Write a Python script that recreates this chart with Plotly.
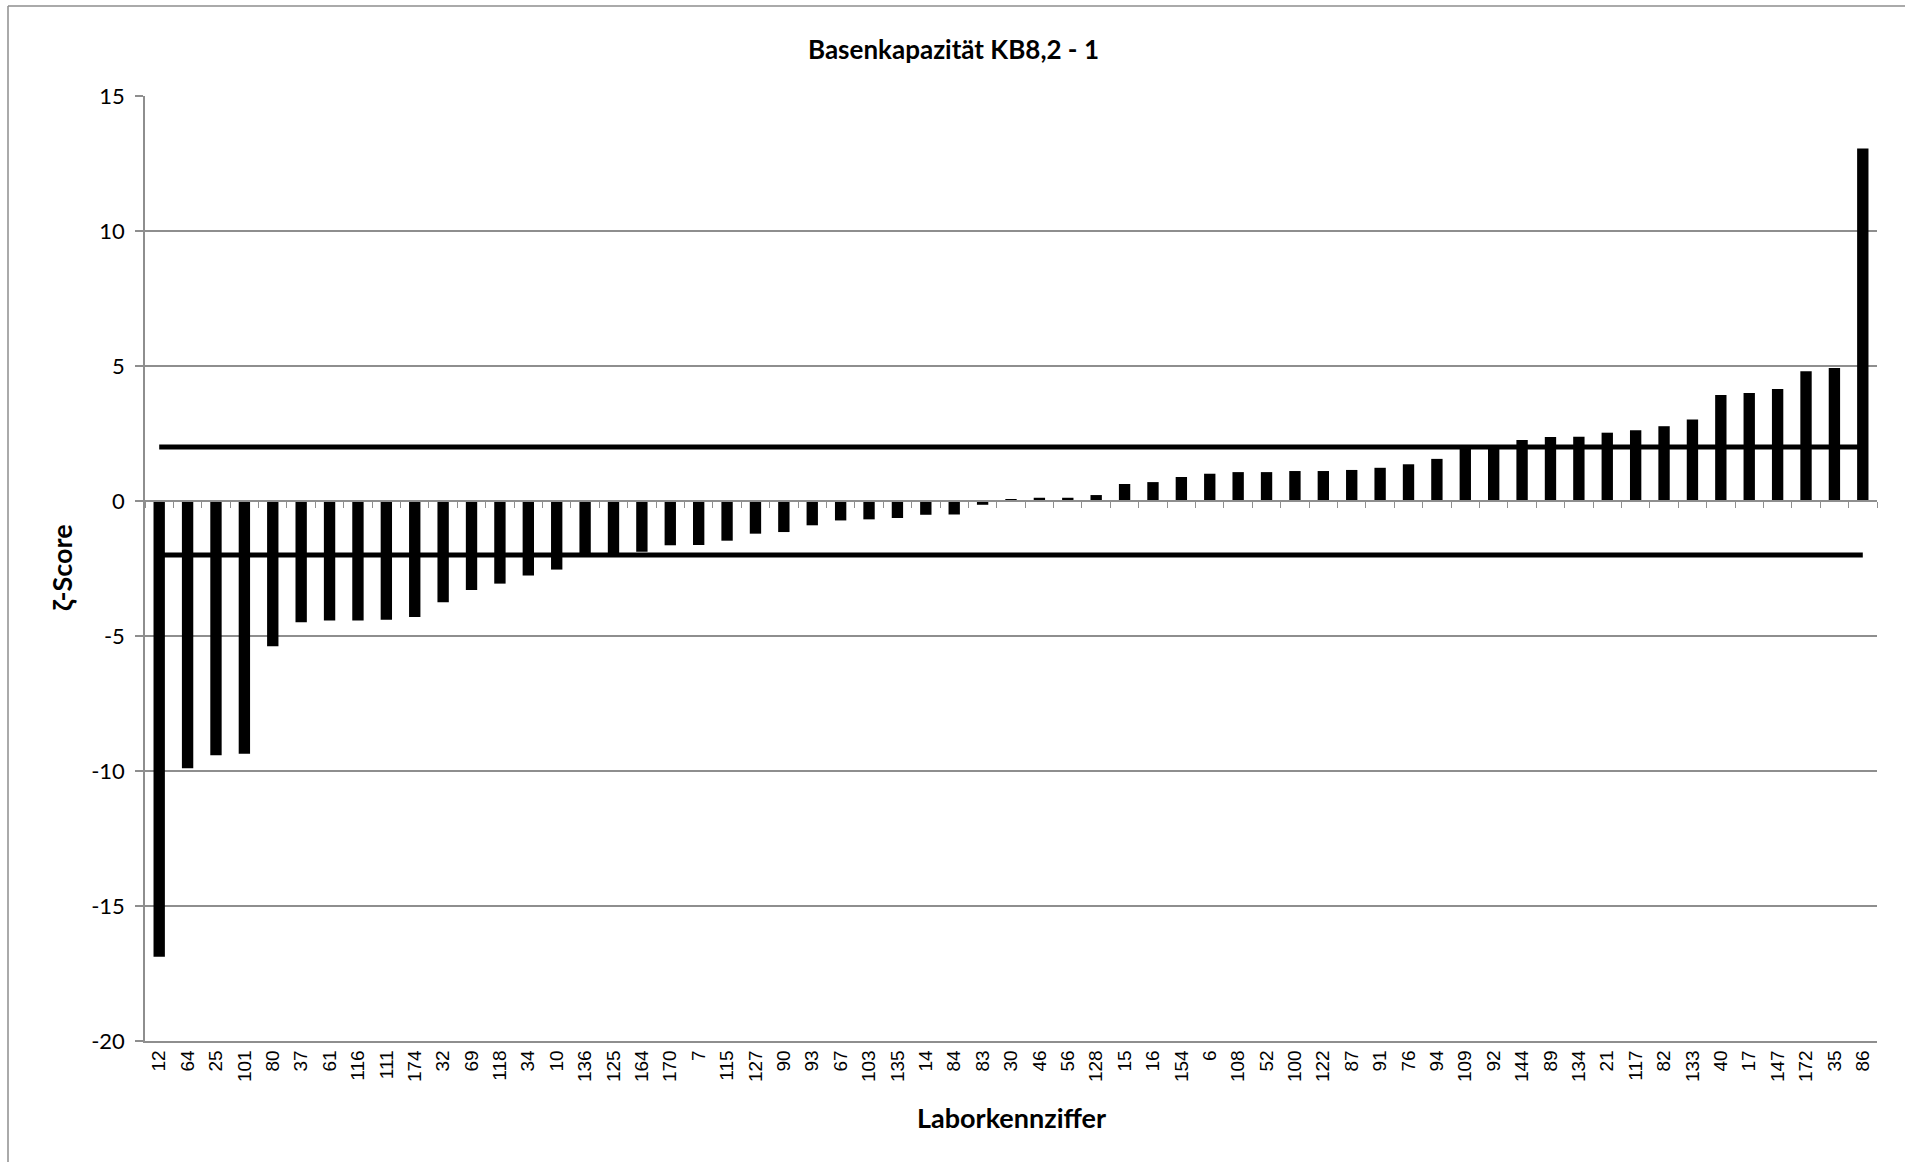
import plotly.graph_objects as go

# --- Data ---
labs = ["12", "64", "25", "101", "80", "37", "61", "116", "111", "174", "32", "69", "118", "34", "10",
        "136", "125", "164", "170", "7", "115", "127", "90", "93", "67", "103", "135", "14", "84", "83",
        "30", "46", "56", "128", "15", "16", "154", "6", "108", "52", "100", "122", "87", "91", "76",
        "94", "109", "92", "144", "89", "134", "21", "117", "82", "133", "40", "17", "147", "172", "35", "86"]
zscores = [-16.88, -9.9, -9.42, -9.36, -5.38, -4.49, -4.43, -4.43, -4.4, -4.3, -3.75, -3.3, -3.06, -2.76, -2.54,
           -1.98, -1.97, -1.88, -1.64, -1.63, -1.47, -1.21, -1.15, -0.9, -0.72, -0.68, -0.63, -0.51, -0.5, -0.14,
           0.07, 0.12, 0.12, 0.22, 0.63, 0.7, 0.89, 1.01, 1.07, 1.07, 1.11, 1.11, 1.15, 1.23, 1.36,
           1.56, 1.96, 1.96, 2.26, 2.37, 2.38, 2.53, 2.62, 2.77, 3.02, 3.93, 4.0, 4.15, 4.81, 4.93, 13.06]
upper_lim = 2
lower_lim = -2
y_ticks = [15, 10, 5, 0, -5, -10, -15, -20]
y_ticktext = ["15", "10", "5", "0", "-5", "-10", "-15", "-20"]

# --- Layout geometry (px) ---
W, H = 1905, 1162
ML, MR, MT, MB = 145, 28, 96, 121
GRID = "#8e8e8e"

pw = W - ML - MR
ph = H - MT - MB


def px_x(p):
    # pixel x -> paper x
    return (p - ML) / pw


def px_y(p):
    # pixel y (from top) -> paper y
    return (H - MB - p) / ph


fig = go.Figure()

# bars on x2 so the category axis at zero gets its tick marks
fig.add_trace(go.Bar(
    x=labs, y=zscores, xaxis="x2", yaxis="y",
    marker=dict(color="black", line=dict(width=0)),
    showlegend=False, hoverinfo="x+y"
))

# +/- 2 limit lines
fig.add_trace(go.Scatter(x=labs, y=[upper_lim] * len(labs), mode="lines",
                         line=dict(color="black", width=5), showlegend=False, hoverinfo="skip"))
fig.add_trace(go.Scatter(x=labs, y=[lower_lim] * len(labs), mode="lines",
                         line=dict(color="black", width=5), showlegend=False, hoverinfo="skip"))

zero_pos = (0 - min(y_ticks)) / (max(y_ticks) - min(y_ticks))

fig.update_layout(
    width=W, height=H,
    margin=dict(l=ML, r=MR, t=MT, b=MB, pad=0),
    paper_bgcolor="white", plot_bgcolor="white",
    bargap=0.6,
    xaxis=dict(
        type="category", categoryorder="array", categoryarray=labs,
        tickangle=-90, tickfont=dict(family="Liberation Sans", size=19, color="black"),
        showgrid=False, showline=True, linecolor=GRID, linewidth=1.5,
        ticks="", ticklen=0,
    ),
    xaxis2=dict(
        type="category", categoryorder="array", categoryarray=labs,
        overlaying="x", matches="x", anchor="free", position=zero_pos, side="bottom",
        showticklabels=False, showgrid=False, showline=True, linecolor=GRID, linewidth=1.5,
        ticks="outside", ticklen=6, tickcolor=GRID, tickwidth=1.2, tickson="boundaries",
    ),
    yaxis=dict(
        range=[min(y_ticks), max(y_ticks)], tickvals=y_ticks, ticktext=y_ticktext,
        tickfont=dict(family="Lato", size=22, color="black"), ticklabelstandoff=6,
        showgrid=True, gridcolor=GRID, gridwidth=1.5, zeroline=False,
        showline=True, linecolor=GRID, linewidth=1.5,
        ticks="outside", ticklen=8, tickcolor=GRID, tickwidth=1.5,
    ),
)

# titles as annotations placed where the reference has them
fig.add_annotation(text="<b>Basenkapazität KB8,2 - 1</b>", xref="paper", yref="paper",
                   x=px_x(953), y=px_y(49), showarrow=False, xanchor="center", yanchor="middle",
                   font=dict(family="Lato", size=26, color="black"))
fig.add_annotation(text="<b>Laborkennziffer</b>", xref="paper", yref="paper",
                   x=px_x(1011), y=px_y(1117), showarrow=False, xanchor="center", yanchor="middle",
                   font=dict(family="Lato", size=27, color="black"))
fig.add_annotation(text="<b>ζ-Score</b>", xref="paper", yref="paper", textangle=-90,
                   x=px_x(61), y=px_y(568), showarrow=False, xanchor="center", yanchor="middle",
                   font=dict(family="Lato", size=27, color="black"))

# outer chart frame (top and left edges are visible in the reference)
fig.add_shape(type="line", xref="paper", yref="paper", x0=px_x(8), x1=px_x(W), y0=px_y(6), y1=px_y(6),
              line=dict(color=GRID, width=1.5))
fig.add_shape(type="line", xref="paper", yref="paper", x0=px_x(8), x1=px_x(8), y0=px_y(6), y1=px_y(H),
              line=dict(color=GRID, width=1.5))

# page has a default 8px body margin; drop it so the figure sits at (0,0)
fig.write_html("out.html", config={"displayModeBar": False},
               post_script="document.body.style.margin='0';")
